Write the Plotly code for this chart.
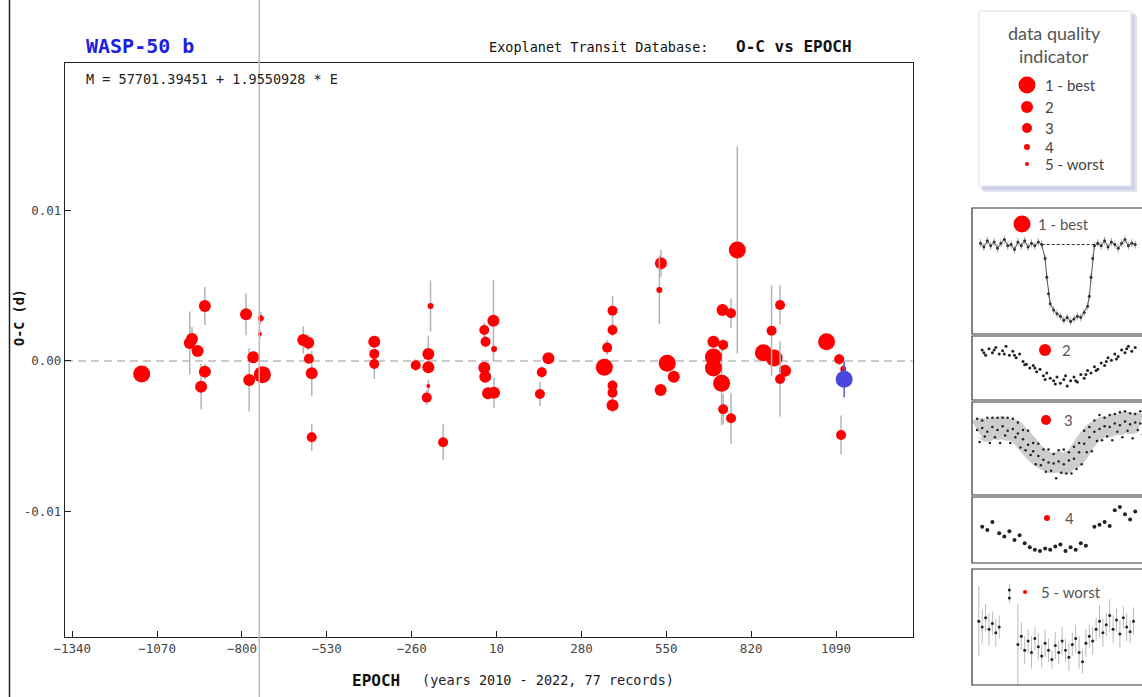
import plotly.graph_objects as go

W, H = 1142, 697

# ---------------- main O-C data ----------------
epoch = [-1119, -966, -959, -918, -941, -918, -930, -787, -740, -743, -764, -777, -735,
         -605, -589, -587, -578, -578, -379, -379, -379, -247, -207, -207, -200, -207,
         -212, -160, -29, -25, 0, 2, -29, -26, -17, 2, 175, 154, 148, 379, 379, 362,
         353, 379, 379, 379, 533, 528, 553, 574, 532, 776, 729, 756, 700, 731, 700,
         700, 726, 731, 756, 859, 893, 885, 912, 928, 912, 1060, 1100, 1113, 1106]
oc = [-0.00087, 0.0012, 0.00146, 0.00366, 0.00067, -0.00071, -0.00171, 0.00311, 0.00284,
      0.0018, 0.00025, -0.00126, -0.00091, 0.0014, 0.00122, 0.00015, -0.00082, -0.00508,
      0.00128, 0.00047, -0.0002, -0.00029, 0.00047, -0.00042, 0.00366, -0.00166, -0.00244,
      -0.00541, 0.00206, 0.00128, 0.00268, 0.0008, -0.00045, -0.00105, -0.00215, -0.00211,
      0.00018, -0.00075, -0.0022, 0.00335, 0.00206, 0.00089, -0.00042, -0.00164, -0.00211,
      -0.00295, 0.0065, 0.00473, -0.00015, -0.00105, -0.00193, 0.00739, 0.0034, 0.00318,
      0.00128, 0.00107, 0.00027, -0.00047, -0.00148, -0.00322, -0.00381, 0.00055, 0.0002,
      0.00202, 0.00373, -0.00065, -0.0012, 0.00128, 0.00011, -0.00053, -0.00493]
oc_err = [0.0003, 0.0021, 0.0008, 0.00127, 0.0004, 0.0005, 0.0015, 0.0014, 0.0004, 0.0003,
          0.0004, 0.0021, 0.0003, 0.0009, 0.0005, 0.0003, 0.0015, 0.0009, 0.0004, 0.0003,
          0.001, 0.0004, 0.0012, 0.0004, 0.0017, 0.0004, 0.0005, 0.0012, 0.0005, 0.0004,
          0.0027, 0.0003, 0.0004, 0.0004, 0.0004, 0.001, 0.0003, 0.0004, 0.0008, 0.001,
          0.0004, 0.0005, 0.0004, 0.0004, 0.0004, 0.0005, 0.0009, 0.0023, 0.0004, 0.0004,
          0.0004, 0.0069, 0.0004, 0.001, 0.0004, 0.0004, 0.0004, 0.0004, 0.0028, 0.001,
          0.0017, 0.0004, 0.0004, 0.003, 0.0013, 0.0004, 0.0025, 0.0004, 0.0004, 0.0003,
          0.0013]
quality = [1, 2, 2, 2, 2, 2, 2, 2, 4, 5, 2, 2, 1, 2, 2, 3, 2, 3, 2, 3, 3, 3, 2, 2, 4, 5,
           3, 3, 3, 3, 2, 4, 2, 2, 2, 2, 2, 3, 3, 3, 3, 3, 1, 3, 3, 2, 2, 4, 1, 2, 2, 1,
           2, 3, 2, 3, 1, 1, 1, 3, 3, 1, 1, 3, 3, 2, 3, 1, 3, 4, 3]

# highlighted (blue) record
hl_epoch = [1116]
hl_oc = [-0.00122]
hl_err = [0.0012]

x_ticks = [-1340, -1070, -800, -530, -260, 10, 280, 550, 820, 1090]
y_ticks = [-0.01, 0.0, 0.01]
y_tick_text = ["-0.01", "0.00", "0.01"]
x_range = [-1363, 1334]
y_range = [-0.0184, 0.01982]
cursor_epoch = -745

quality_levels = [1, 2, 3, 4, 5]
quality_sizes = [17, 12, 10, 6, 4]
legend_labels = ["1 - best", "2", "3", "4", "5 - worst"]

# ---------------- sample light curves (normalised) ----------------
lc1_x = [0.05, 0.07, 0.09, 0.11, 0.13, 0.15, 0.17, 0.19, 0.21, 0.23, 0.25, 0.27, 0.29, 0.31,
         0.33, 0.35, 0.37, 0.39, 0.41, 0.43, 0.44, 0.45, 0.46, 0.48, 0.50, 0.52, 0.54, 0.56,
         0.58, 0.60, 0.62, 0.64, 0.66, 0.68, 0.69, 0.70, 0.71, 0.72, 0.74, 0.76, 0.78, 0.80,
         0.82, 0.84, 0.86, 0.88, 0.90, 0.92, 0.94, 0.96]
lc1_y = [0.72, 0.69, 0.74, 0.70, 0.73, 0.68, 0.72, 0.75, 0.70, 0.71, 0.67, 0.73, 0.70, 0.74,
         0.69, 0.72, 0.70, 0.73, 0.71, 0.60, 0.45, 0.32, 0.24, 0.19, 0.16, 0.14, 0.11, 0.13,
         0.10, 0.12, 0.14, 0.13, 0.17, 0.22, 0.30, 0.45, 0.60, 0.70, 0.72, 0.70, 0.74, 0.69,
         0.73, 0.71, 0.68, 0.72, 0.75, 0.70, 0.72, 0.71]
lc2_x = [0.06, 0.08, 0.10, 0.12, 0.14, 0.16, 0.18, 0.20, 0.22, 0.24, 0.26, 0.28, 0.30, 0.32,
         0.34, 0.36, 0.38, 0.40, 0.42, 0.44, 0.46, 0.48, 0.50, 0.52, 0.54, 0.56, 0.58, 0.60,
         0.62, 0.64, 0.66, 0.68, 0.70, 0.72, 0.74, 0.76, 0.78, 0.80, 0.82, 0.84, 0.86, 0.88,
         0.90, 0.92, 0.94, 0.96, 0.07, 0.13, 0.19, 0.25, 0.31, 0.37, 0.43, 0.49, 0.55, 0.61,
         0.67, 0.73, 0.79, 0.85, 0.91]
lc2_y = [0.78, 0.70, 0.80, 0.74, 0.82, 0.72, 0.77, 0.84, 0.70, 0.76, 0.66, 0.72, 0.60, 0.56,
         0.50, 0.54, 0.44, 0.48, 0.38, 0.42, 0.34, 0.30, 0.36, 0.26, 0.32, 0.22, 0.30, 0.36,
         0.28, 0.40, 0.34, 0.46, 0.42, 0.52, 0.48, 0.58, 0.54, 0.66, 0.62, 0.72, 0.68, 0.78,
         0.74, 0.84, 0.76, 0.82, 0.74, 0.78, 0.72, 0.70, 0.55, 0.50, 0.32, 0.25, 0.38, 0.30,
         0.40, 0.46, 0.60, 0.64, 0.80]
lc3_x = [0.03, 0.06, 0.09, 0.12, 0.15, 0.18, 0.21, 0.24, 0.27, 0.30, 0.33, 0.36, 0.39, 0.42,
         0.45, 0.48, 0.51, 0.54, 0.57, 0.60, 0.63, 0.66, 0.69, 0.72, 0.75, 0.78, 0.81, 0.84,
         0.87, 0.90, 0.93, 0.96, 0.99]
lc3_y = [0.70, 0.72, 0.68, 0.73, 0.70, 0.74, 0.69, 0.71, 0.66, 0.60, 0.54, 0.47, 0.42, 0.38,
         0.35, 0.34, 0.36, 0.33, 0.37, 0.39, 0.46, 0.55, 0.62, 0.68, 0.71, 0.74, 0.73, 0.77,
         0.75, 0.79, 0.76, 0.78, 0.77]
# scattered outliers around the band of panel 3 (offsets from the band)
lc3_up = [0.12, 0.08, 0.15, 0.10, 0.13, 0.09, 0.14, 0.11, 0.12, 0.10, 0.15, 0.09, 0.13, 0.11,
          0.14, 0.10, 0.12, 0.16, 0.09, 0.13, 0.10, 0.14, 0.11, 0.12, 0.15, 0.09, 0.13, 0.10,
          0.14, 0.11, 0.12, 0.09, 0.13]
lc4_x = [0.06, 0.09, 0.12, 0.16, 0.19, 0.22, 0.25, 0.28, 0.31, 0.34, 0.37, 0.40, 0.43, 0.46,
         0.49, 0.52, 0.55, 0.58, 0.61, 0.64, 0.67, 0.72, 0.75, 0.78, 0.81, 0.84, 0.87, 0.90,
         0.93, 0.96]
lc4_y = [0.55, 0.50, 0.62, 0.45, 0.40, 0.48, 0.35, 0.42, 0.30, 0.24, 0.20, 0.18, 0.22, 0.20,
         0.25, 0.28, 0.18, 0.24, 0.20, 0.30, 0.26, 0.55, 0.58, 0.62, 0.56, 0.80, 0.85, 0.74,
         0.66, 0.78]
lc5_x = [0.04, 0.06, 0.08, 0.10, 0.12, 0.14, 0.16, 0.22, 0.22, 0.27, 0.29, 0.31, 0.33, 0.35,
         0.37, 0.39, 0.41, 0.43, 0.45, 0.47, 0.49, 0.51, 0.53, 0.55, 0.57, 0.59, 0.61, 0.63,
         0.65, 0.67, 0.69, 0.71, 0.73, 0.75, 0.77, 0.79, 0.81, 0.83, 0.85, 0.87, 0.89, 0.91,
         0.93, 0.95]
lc5_y = [0.55, 0.50, 0.58, 0.48, 0.53, 0.45, 0.50, 0.82, 0.75, 0.35, 0.42, 0.30, 0.38, 0.28,
         0.40, 0.33, 0.25, 0.36, 0.30, 0.22, 0.34, 0.28, 0.38, 0.30, 0.24, 0.35, 0.40, 0.28,
         0.20, 0.36, 0.42, 0.38, 0.48, 0.55, 0.45, 0.52, 0.60, 0.48, 0.56, 0.44, 0.58, 0.50,
         0.46, 0.55]
lc5_err = [0.30, 0.15, 0.12, 0.14, 0.10, 0.12, 0.10, 0.05, 0.04, 0.35, 0.12, 0.12, 0.10, 0.14,
           0.10, 0.12, 0.10, 0.12, 0.10, 0.08, 0.12, 0.10, 0.12, 0.10, 0.12, 0.10, 0.12, 0.14,
           0.10, 0.12, 0.10, 0.12, 0.10, 0.14, 0.12, 0.10, 0.14, 0.12, 0.10, 0.12, 0.10, 0.12,
           0.10, 0.12]

# ---------------- layout helpers ----------------
PL, PR, PT, PB = 65, 912.7, 63.3, 637.3   # main plot box in pixels
MONO = "DejaVu Sans Mono"
SANS = "Lato"


def fx(px):
    return px / W


def fy(py):
    return 1 - py / H


fig = go.Figure()

# main data traces, one per quality level
for q, s in zip(quality_levels, quality_sizes):
    idx = [i for i, v in enumerate(quality) if v == q]
    fig.add_trace(go.Scatter(
        x=[epoch[i] for i in idx], y=[oc[i] for i in idx],
        mode="markers",
        marker=dict(color="#ff0000", size=s, opacity=1, line=dict(width=0)),
        error_y=dict(type="data", array=[oc_err[i] for i in idx], color="#b4b4b4",
                     thickness=1.5, width=0),
        xaxis="x", yaxis="y", showlegend=False, hoverinfo="x+y",
    ))

fig.add_trace(go.Scatter(
    x=hl_epoch, y=hl_oc, mode="markers",
    marker=dict(color="#4848dc", size=quality_sizes[0], opacity=1, line=dict(width=0)),
    error_y=dict(type="data", array=hl_err, color="#5a5ae0", thickness=1.5, width=0),
    xaxis="x", yaxis="y", showlegend=False,
))

# ---------------- right side: legend box and sample light curves ----------------
LEG_X, LEG_TXT_X = 1027, 1043
leg_y = [85, 107, 128, 147, 164]
fig.add_trace(go.Scatter(
    x=[LEG_X] * len(legend_labels), y=leg_y, mode="markers",
    marker=dict(color="#ff0000", size=quality_sizes, opacity=1, line=dict(width=0)),
    xaxis="x2", yaxis="y2", showlegend=False, hoverinfo="skip",
))

PX0, PWID = 972, 170
panels = [(208, 334), (336, 400), (402, 495), (497, 563), (569, 685)]


def to_px(nx_list, ny_list, k):
    top, bot = panels[k]
    h = bot - top
    return [PX0 + v * PWID for v in nx_list], [bot - v * h for v in ny_list]


# panel 1
x1, y1 = to_px(lc1_x, lc1_y, 0)
fig.add_trace(go.Scatter(x=x1, y=y1, mode="lines+markers",
                         line=dict(color="#555555", width=1),
                         marker=dict(color="#333333", size=3),
                         error_y=dict(type="constant", value=4, color="#aaaaaa",
                                      thickness=1, width=0),
                         xaxis="x2", yaxis="y2", showlegend=False, hoverinfo="skip"))
# panel 2
x2_, y2_ = to_px(lc2_x, lc2_y, 1)
fig.add_trace(go.Scatter(x=x2_, y=y2_, mode="markers",
                         marker=dict(color="#222222", size=3),
                         xaxis="x2", yaxis="y2", showlegend=False, hoverinfo="skip"))
# panel 3
x3, y3 = to_px(lc3_x, lc3_y, 2)
fig.add_trace(go.Scatter(x=x3, y=y3, mode="lines",
                         line=dict(color="rgba(90,90,90,0.30)", width=20, shape="spline"),
                         xaxis="x2", yaxis="y2", showlegend=False, hoverinfo="skip"))
x3u, y3u = to_px(lc3_x, [c + d for c, d in zip(lc3_y, lc3_up)], 2)
x3l, y3l = to_px([v + 0.015 for v in lc3_x], [c - d for c, d in zip(lc3_y, lc3_up[::-1])], 2)
fig.add_trace(go.Scatter(x=x3 + x3u + x3l, y=y3 + y3u + y3l, mode="markers",
                         marker=dict(color="#222222", size=2.5),
                         xaxis="x2", yaxis="y2", showlegend=False, hoverinfo="skip"))
# panel 4
x4, y4 = to_px(lc4_x, lc4_y, 3)
fig.add_trace(go.Scatter(x=x4, y=y4, mode="markers",
                         marker=dict(color="#222222", size=4),
                         xaxis="x2", yaxis="y2", showlegend=False, hoverinfo="skip"))
# panel 5
x5, y5 = to_px(lc5_x, lc5_y, 4)
h5 = panels[4][1] - panels[4][0]
fig.add_trace(go.Scatter(x=x5, y=y5, mode="markers",
                         marker=dict(color="#222222", size=3),
                         error_y=dict(type="data", array=[e * h5 for e in lc5_err],
                                      color="#bbbbbb", thickness=1, width=0),
                         xaxis="x2", yaxis="y2", showlegend=False, hoverinfo="skip"))

# quality markers inside the panels
panel_mark_x = [1022, 1045, 1046, 1047, 1025]
panel_mark_y = [224, 350, 420, 518, 592]
fig.add_trace(go.Scatter(x=panel_mark_x, y=panel_mark_y, mode="markers",
                         marker=dict(color="#ff0000", size=quality_sizes, opacity=1,
                                     line=dict(width=0)),
                         xaxis="x2", yaxis="y2", showlegend=False, hoverinfo="skip"))

shapes = []
# zero line
shapes.append(dict(type="line", xref="x", yref="y", x0=x_range[0], x1=x_range[1], y0=0, y1=0,
                   line=dict(color="#bbbbbb", width=1.5, dash="8px,5px"), layer="below"))
# cursor line over whole height
shapes.append(dict(type="line", xref="x", yref="paper", x0=cursor_epoch, x1=cursor_epoch,
                   y0=0, y1=1, line=dict(color="#bdbdbd", width=1.5), layer="above"))
# outer frame left edge
shapes.append(dict(type="line", xref="paper", yref="paper", x0=fx(9.5), x1=fx(9.5), y0=0, y1=1,
                   line=dict(color="#222222", width=1.5)))
# legend box with shadow
shapes.append(dict(type="rect", xref="x2", yref="y2", x0=983, x1=1137, y0=15, y1=192,
                   fillcolor="rgba(160,170,210,0.30)", line=dict(width=0), layer="below"))
shapes.append(dict(type="rect", xref="x2", yref="y2", x0=981, x1=1135, y0=13, y1=190,
                   fillcolor="rgba(160,170,210,0.30)", line=dict(width=0), layer="below"))
shapes.append(dict(type="rect", xref="x2", yref="y2", x0=979, x1=1131, y0=11, y1=186,
                   fillcolor="white", line=dict(color="#e2e2ea", width=1), layer="below"))
# light curve panel boxes
for top, bot in panels:
    shapes.append(dict(type="rect", xref="x2", yref="y2", x0=PX0, x1=1150, y0=top, y1=bot,
                       fillcolor="rgba(0,0,0,0)", line=dict(color="#333333", width=1.2)))
# dashed reference line in panel 1
shapes.append(dict(type="line", xref="x2", yref="y2",
                   x0=PX0 + 0.41 * PWID, x1=PX0 + 0.74 * PWID,
                   y0=panels[0][1] - 0.71 * (panels[0][1] - panels[0][0]),
                   y1=panels[0][1] - 0.71 * (panels[0][1] - panels[0][0]),
                   line=dict(color="#333333", width=1, dash="3px,2px")))

annotations = [
    dict(text="<b>WASP-50 b</b>", x=fx(84), y=fy(46), xref="paper", yref="paper",
         xanchor="left", yanchor="middle", showarrow=False,
         font=dict(family=MONO, size=20, color="#1e1ee0")),
    dict(text="Exoplanet Transit Database:", x=fx(487), y=fy(47), xref="paper", yref="paper",
         xanchor="left", yanchor="middle", showarrow=False,
         font=dict(family=MONO, size=13.5, color="#111111")),
    dict(text="<b>O-C vs EPOCH</b>", x=fx(734), y=fy(47), xref="paper", yref="paper",
         xanchor="left", yanchor="middle", showarrow=False,
         font=dict(family=MONO, size=16, color="#111111")),
    dict(text="M = 57701.39451 + 1.9550928 * E", x=fx(84), y=fy(79), xref="paper",
         yref="paper", xanchor="left", yanchor="middle", showarrow=False,
         font=dict(family=MONO, size=13.5, color="#222222")),
    dict(text="<b>EPOCH</b>", x=fx(350), y=fy(680), xref="paper", yref="paper",
         xanchor="left", yanchor="middle", showarrow=False,
         font=dict(family=MONO, size=16, color="#111111")),
    dict(text="(years 2010 - 2022, 77 records)", x=fx(420), y=fy(680), xref="paper",
         yref="paper", xanchor="left", yanchor="middle", showarrow=False,
         font=dict(family=MONO, size=13.5, color="#222222")),
    dict(text="<b>O-C (d)</b>", x=fx(19), y=fy(318), xref="paper", yref="paper",
         xanchor="center", yanchor="middle", showarrow=False, textangle=-90,
         font=dict(family=MONO, size=13.5, color="#111111")),
    dict(text="data quality", x=1054, y=33, xref="x2", yref="y2", showarrow=False,
         xanchor="center", yanchor="middle", font=dict(family=SANS, size=18, color="#555555")),
    dict(text="indicator", x=1054, y=56, xref="x2", yref="y2", showarrow=False,
         xanchor="center", yanchor="middle", font=dict(family=SANS, size=18, color="#555555")),
]
for lab, yy in zip(legend_labels, leg_y):
    annotations.append(dict(text=lab, x=LEG_TXT_X, y=yy, xref="x2", yref="y2",
                            showarrow=False, xanchor="left", yanchor="middle",
                            font=dict(family=SANS, size=15, color="#444444")))
panel_txt_x = [1036, 1060, 1062, 1063, 1039]
for lab, xx, yy in zip(legend_labels, panel_txt_x, panel_mark_y):
    annotations.append(dict(text=lab, x=xx, y=yy, xref="x2", yref="y2",
                            showarrow=False, xanchor="left", yanchor="middle",
                            font=dict(family=SANS, size=15, color="#555555")))

fig.update_layout(
    width=W, height=H,
    margin=dict(l=0, r=0, t=0, b=0),
    paper_bgcolor="white", plot_bgcolor="rgba(0,0,0,0)",
    showlegend=False,
    xaxis=dict(domain=[fx(PL), fx(PR)], range=x_range, tickvals=x_ticks,
               ticks="inside", ticklen=6, tickcolor="#222222", tickwidth=1,
               showline=True, linecolor="#222222", linewidth=1.2, mirror=True,
               showgrid=False, zeroline=False, automargin=False, anchor="y",
               tickfont=dict(family=MONO, size=12.5, color="#444444")),
    yaxis=dict(domain=[fy(PB), fy(PT)], range=y_range, tickvals=y_ticks, ticktext=y_tick_text,
               ticks="inside", ticklen=6, tickcolor="#222222", tickwidth=1,
               showline=True, linecolor="#222222", linewidth=1.2, mirror=True,
               showgrid=False, zeroline=False, automargin=False, anchor="x",
               tickfont=dict(family=MONO, size=12.5, color="#444444")),
    xaxis2=dict(domain=[fx(960), 1], range=[960, W], visible=False, anchor="y2",
                fixedrange=True),
    yaxis2=dict(domain=[0, 1], range=[H, 0], visible=False, anchor="x2", fixedrange=True),
    shapes=shapes, annotations=annotations,
)

fig.write_html("out.html")
